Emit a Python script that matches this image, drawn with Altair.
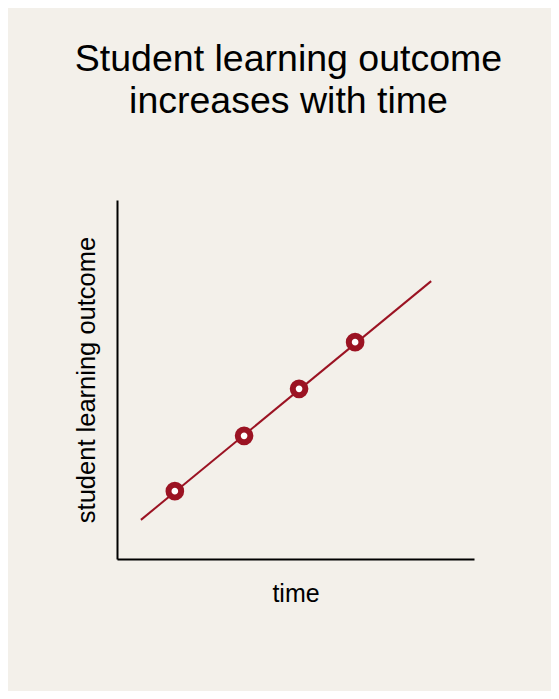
import altair as alt
import pandas as pd

# data
point_time = [1.62, 3.56, 5.10, 6.67]
point_outcome = [1.89, 3.43, 4.74, 6.04]
line_time = [0.67, 8.80]
line_outcome = [1.09, 7.74]

title_lines = ["Student learning outcome", "increases with time"]
x_title = "time"
y_title = "student learning outcome"

RED = "#9b1323"
BG = "#f3f0ea"
FONT = "Liberation Sans"

pts = pd.DataFrame({"time": point_time, "outcome": point_outcome})
ln = pd.DataFrame({"time": line_time, "outcome": line_outcome})

xs = alt.Scale(domain=[0, 10], nice=False, zero=False)
ys = alt.Scale(domain=[0, 10], nice=False, zero=False)

x_axis = alt.Axis(title=x_title, labels=False, ticks=False, grid=False,
                  domainColor="black", domainWidth=2, titlePadding=22,
                  titleFontSize=25, titleFontWeight="normal", titleFont=FONT,
                  titleColor="black")
y_axis = alt.Axis(title=y_title, labels=False, ticks=False, grid=False,
                  domainColor="black", domainWidth=2, titlePadding=18,
                  titleFontSize=25.5, titleFontWeight="normal", titleFont=FONT,
                  titleColor="black")

line = alt.Chart(ln).mark_line(color=RED, strokeWidth=2).encode(
    x=alt.X("time:Q", scale=xs, axis=x_axis),
    y=alt.Y("outcome:Q", scale=ys, axis=y_axis),
)

points = alt.Chart(pts).mark_point(
    shape="circle", size=160, filled=False, fill="white", fillOpacity=1,
    stroke=RED, strokeWidth=6, opacity=1
).encode(
    x=alt.X("time:Q", scale=xs),
    y=alt.Y("outcome:Q", scale=ys),
)

chart = alt.layer(line, points).properties(
    width=357,
    height=359,
    title=alt.TitleParams(title_lines, fontSize=37.5, font=FONT, fontWeight="normal",
                          anchor="middle", color="black", lineHeight=42,
                          offset=80, dx=-7),
    background=BG,
    autosize=alt.AutoSizeParams(type="none"),
    padding={"left": 109, "top": 192, "right": 77, "bottom": 132},
).configure_view(stroke=None)

chart.save("out.html", embed_options={"renderer": "svg", "actions": False})
